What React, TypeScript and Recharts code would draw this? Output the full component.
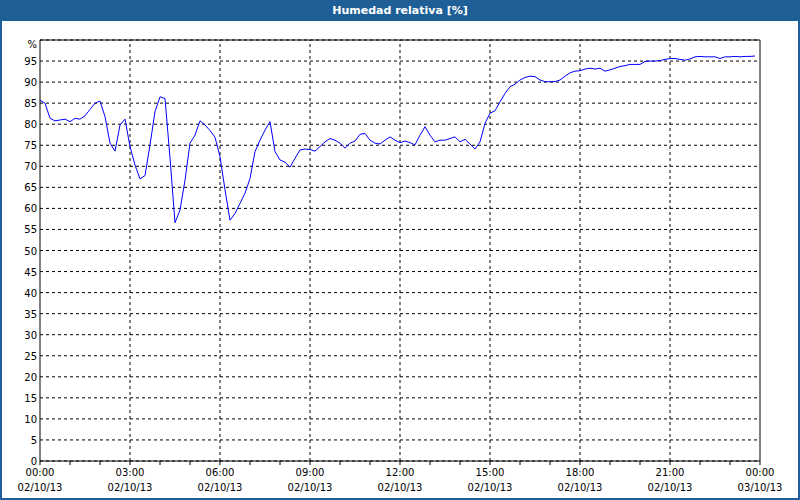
import React from 'react';
import { LineChart, Line, XAxis, YAxis, CartesianGrid, ReferenceLine } from 'recharts';

const TITLE = 'Humedad relativa [%]';

const minutes = [
  0, 10, 20, 30, 50, 60, 70, 80, 90, 100, 110, 120, 130, 140, 150, 160, 170, 180, 190, 200,
  210, 220, 230, 240, 250, 260, 270, 280, 290, 300, 310, 320, 330, 340, 350, 360, 370, 380, 390, 400,
  410, 420, 430, 440, 450, 460, 470, 480, 490, 500, 510, 520, 530, 540, 550, 560, 570, 580, 590, 600,
  610, 620, 630, 640, 650, 660, 670, 680, 690, 700, 710, 720, 730, 740, 750, 760, 770, 780, 790, 800,
  810, 820, 830, 840, 850, 860, 870, 880, 890, 900, 910, 920, 930, 940, 950, 960, 970, 980, 990, 1000,
  1010, 1020, 1030, 1040, 1050, 1060, 1070, 1080, 1090, 1100, 1110, 1120, 1130, 1140, 1150, 1160, 1170, 1180, 1190, 1200,
  1210, 1220, 1230, 1240, 1250, 1260, 1270, 1280, 1290, 1300, 1310, 1320, 1330, 1340, 1350, 1360, 1370, 1380, 1390, 1400,
  1410, 1420, 1430,
];

const humidity = [
  85.7, 85.0, 81.4, 80.8, 81.2, 80.6, 81.4, 81.2, 82.0, 83.5, 85.0, 85.5, 81.8, 75.5, 73.6, 79.8, 81.2, 74.7, 70.3, 67.0,
  67.8, 75.1, 83.0, 86.5, 86.1, 72.0, 56.6, 59.6, 66.7, 75.5, 77.4, 80.8, 79.8, 78.5, 76.9, 72.3, 64.4, 57.2, 58.8, 61.2,
  63.6, 67.1, 73.5, 76.2, 78.6, 80.6, 73.5, 71.5, 71.0, 69.8, 71.9, 73.9, 74.1, 74.0, 73.6, 74.7, 75.8, 76.6, 76.2, 75.5,
  74.3, 75.5, 76.0, 77.6, 77.8, 76.2, 75.5, 75.3, 76.2, 77.0, 76.2, 75.6, 76.0, 75.6, 75.1, 77.4, 79.4, 77.4, 75.8, 76.2,
  76.2, 76.6, 77.0, 75.8, 76.4, 75.3, 74.1, 75.8, 80.2, 82.6, 83.2, 85.3, 87.3, 88.9, 89.5, 90.5, 91.1, 91.4, 91.3, 90.5,
  90.1, 90.1, 90.1, 90.5, 91.4, 92.2, 92.6, 92.7, 93.1, 93.3, 93.1, 93.3, 92.6, 92.9, 93.3, 93.7, 93.9, 94.2, 94.2, 94.2,
  94.9, 95.0, 95.0, 95.1, 95.4, 95.6, 95.6, 95.4, 95.2, 95.5, 96.0, 96.1, 96.0, 96.0, 96.0, 95.6, 96.0, 96.0, 96.1, 96.0,
  96.1, 96.1, 96.2,
];

const hourTicks = [0, 1, 2, 3, 4, 5, 6, 7, 8, 9, 10, 11, 12, 13, 14, 15, 16, 17, 18, 19, 20, 21, 22, 23, 24];
const gridHours = [3, 6, 9, 12, 15, 18, 21];
const timeLabels = ['00:00', '03:00', '06:00', '09:00', '12:00', '15:00', '18:00', '21:00', '00:00'];
const dateLabels = ['02/10/13', '02/10/13', '02/10/13', '02/10/13', '02/10/13', '02/10/13', '02/10/13', '02/10/13', '03/10/13'];
const yTicks = [0, 5, 10, 15, 20, 25, 30, 35, 40, 45, 50, 55, 60, 65, 70, 75, 80, 85, 90, 95, 100];

const data = minutes.map((m, i) => ({ h: m / 60, v: humidity[i] }));

const FONT = '"DejaVu Sans", Verdana, sans-serif';

const XTick = (props: any) => {
  const { x, y, payload } = props;
  const h = payload.value;
  if (h % 3 !== 0) return <g />;
  const idx = h / 3;
  return (
    <text x={x} y={y} textAnchor="middle" fontFamily={FONT} fontSize={10} fill="#000">
      <tspan x={x} dy={10}>{timeLabels[idx]}</tspan>
      <tspan x={x} dy={15}>{dateLabels[idx]}</tspan>
    </text>
  );
};

const YTick = (props: any) => {
  const { x, y, payload } = props;
  const label = payload.value === 100 ? '%' : String(payload.value);
  return (
    <text x={x} y={y + (payload.value === 100 ? 8 : 4)} textAnchor="end" fontFamily={FONT} fontSize={10} fill="#000">
      {label}
    </text>
  );
};

export default function App() {
  return (
    <div style={{ position: 'absolute', left: 0, top: 0, width: 800, height: 500, background: '#fff', overflow: 'hidden' }}>
      <LineChart width={800} height={500} data={data} margin={{ top: 40, right: 40, bottom: 0, left: 0 }}>
        <CartesianGrid vertical={false} stroke="#000" strokeDasharray="3 3" />
        <XAxis
          dataKey="h"
          type="number"
          domain={[0, 24]}
          ticks={hourTicks}
          interval={0}
          tick={<XTick />}
          tickSize={4}
          tickMargin={1}
          height={39}
          stroke="#000"
          axisLine={{ stroke: '#000' }}
          tickLine={{ stroke: '#000' }}
        />
        <YAxis
          type="number"
          domain={[0, 100]}
          ticks={yTicks}
          interval={0}
          tick={<YTick />}
          tickSize={0}
          tickMargin={3}
          width={40}
          axisLine={{ stroke: '#000' }}
          tickLine={false}
        />
        {gridHours.map((g) => (
          <ReferenceLine key={g} x={g} stroke="#000" strokeDasharray="3 3" />
        ))}
        <ReferenceLine y={100} stroke="#000" />
        <ReferenceLine x={24} stroke="#000" />
        <Line
          type="linear"
          dataKey="v"
          stroke="#0000ff"
          strokeWidth={1}
          dot={false}
          isAnimationActive={false}
        />
      </LineChart>
      <div
        style={{
          position: 'absolute',
          left: 0,
          top: 0,
          width: 800,
          height: 21,
          background: '#1f5f98',
          color: '#fff',
          fontFamily: FONT,
          fontWeight: 'bold',
          fontSize: 11,
          lineHeight: '21px',
          textAlign: 'center',
        }}
      >
        {TITLE}
      </div>
      <div
        style={{
          position: 'absolute',
          left: 0,
          top: 0,
          width: 800,
          height: 500,
          boxSizing: 'border-box',
          borderLeft: '2px solid #1f5f98',
          borderRight: '2px solid #1f5f98',
          borderBottom: '2px solid #1f5f98',
          pointerEvents: 'none',
        }}
      />
    </div>
  );
}
